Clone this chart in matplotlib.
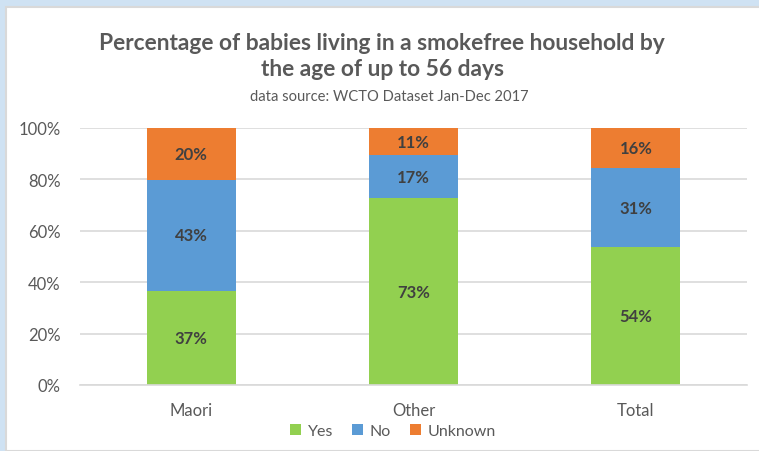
"""
Smokefree household chart for babies up to 56 days.
"""

import matplotlib.pyplot as plt
from matplotlib.patches import Rectangle

plt.rcParams['font.family'] = ['Lato', 'DejaVu Sans']

groups = ["Maori", "Other", "Total"]
yes = [36.6, 72.6, 53.7]
no = [43.2, 16.8, 30.7]
unknown = [20.2, 10.6, 15.6]

W, H = 759, 452
fig = plt.figure(figsize=(W / 100, H / 100), dpi=100, facecolor="#CFE2F3")
fig.patches.append(Rectangle((6 / W, 0), 1, 1 - 8 / H, transform=fig.transFigure,
                             facecolor="white", edgecolor="#D9D9D9", lw=1.5, zorder=-10))

ax = fig.add_axes([80 / W, 1 - 386 / H, (747 - 80) / W, (386 - 129) / H])
ax.set_facecolor("none")

x = range(len(groups))
bottom2 = [a + b for a, b in zip(yes, no)]
b1 = ax.bar(x, yes, width=0.4, color="#92D050", label="Yes", zorder=2)
b2 = ax.bar(x, no, width=0.4, bottom=yes, color="#5B9BD5", label="No", zorder=2)
b3 = ax.bar(x, unknown, width=0.4, bottom=bottom2, color="#ED7D31", label="Unknown", zorder=2)

for bars, vals in [(b1, yes), (b2, no), (b3, unknown)]:
    ax.bar_label(bars, labels=["{:.0f}%".format(v) for v in vals], label_type="center",
                 fontsize=12, fontweight="bold", color="#404040")

ax.set_xlim(-0.5, 2.5)
ax.set_ylim(0, 100)
ax.set_yticks(range(0, 101, 20))
ax.set_yticklabels(["{}%".format(v) for v in range(0, 101, 20)])
ax.set_xticks(list(x))
ax.set_xticklabels(groups)
ax.tick_params(length=0, labelsize=12, labelcolor="#595959")
ax.tick_params(axis="y", pad=14)
ax.tick_params(axis="x", pad=12)
ax.grid(axis="y", color="#D9D9D9", lw=1.2, zorder=0)
for s in ["top", "right", "left"]:
    ax.spines[s].set_visible(False)
ax.spines["bottom"].set_color("#D9D9D9")
ax.spines["bottom"].set_linewidth(1.2)

fig.text(382 / W, 1 - 43 / H, "Percentage of babies living in a smokefree household by",
         ha="center", va="center", fontsize=16.4, fontweight="bold", color="#595959")
fig.text(382 / W, 1 - 70 / H, "the age of up to 56 days",
         ha="center", va="center", fontsize=16.4, fontweight="bold", color="#595959")
fig.text(389 / W, 1 - 97 / H, "data source: WCTO Dataset Jan-Dec 2017",
         ha="center", va="center", fontsize=10.6, color="#595959")

fig.legend(loc="center", bbox_to_anchor=(393 / W, 1 - 432 / H), ncol=3, frameon=False,
           fontsize=11.5, labelcolor="#595959", handlelength=0.7, handleheight=0.7,
           handletextpad=0.4, columnspacing=1.2)

plt.savefig("out.png", dpi=100, facecolor=fig.get_facecolor())
